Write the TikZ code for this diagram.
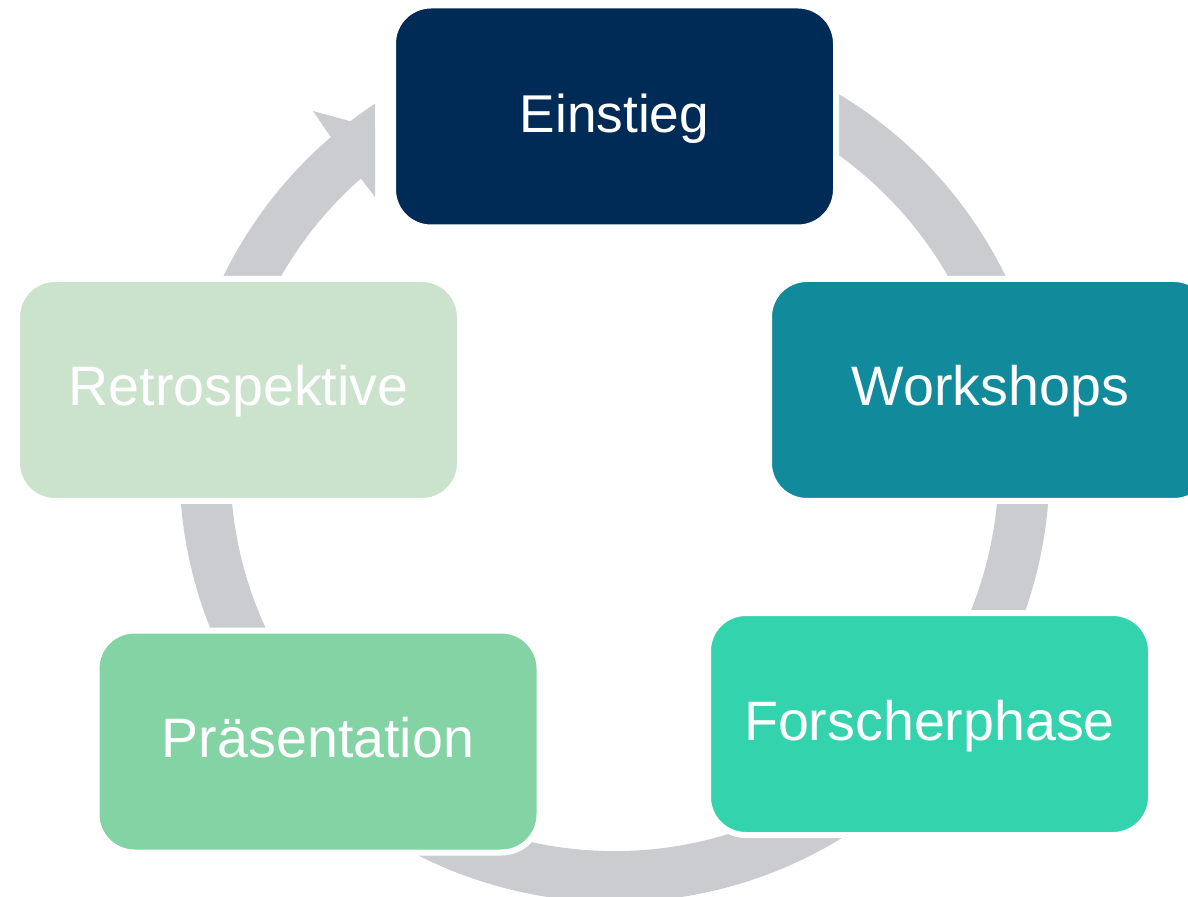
\documentclass[tikz,border=0pt]{standalone}
\usepackage{fontspec}
\setmainfont{Liberation Sans}
\definecolor{cEin}{RGB}{0,43,86}
\definecolor{cWork}{RGB}{17,138,156}
\definecolor{cFor}{RGB}{51,211,173}
\definecolor{cPra}{RGB}{132,211,164}
\definecolor{cRet}{RGB}{203,227,204}
\definecolor{ringgray}{RGB}{203,204,208}
\begin{document}
\begin{tikzpicture}[x=0.5pt,y=-0.5pt,
  phase/.style={rectangle, rounded corners=19pt, draw=white, line width=3pt,
    minimum width=221.5pt, minimum height=111pt, inner sep=0pt,
    text=white, font=\fontsize{27.8}{32}\selectfont,
    text height=20pt, text depth=4pt},
  ring/.style={draw=ringgray, line width=25.5pt}]
\useasboundingbox (0,0) rectangle (1188,897);
\clip (0,0) rectangle (1188,897);
\coordinate (c) at (614.5,467);
\draw[ring] (c) circle[radius=409.6];
\fill[white] (375,85) rectangle (400,230);
\fill[ringgray] (328,133) -- (313,111) -- (375,128) -- (375,197) -- (359,176) -- cycle;
\node[phase, fill=cEin, font=\fontsize{26.6}{31}\selectfont] (einstieg) at (614.5,116.5) {Einstieg};
\node[phase, fill=cWork] (workshops) at (990.5,390) {Workshops};
\node[phase, fill=cFor] (forscher) at (929.5,724) {Forscherphase};
\node[phase, fill=cPra] (praes) at (318,741.5) {Präsentation};
\node[phase, fill=cRet] (retro) at (238.5,390) {Retrospektive};
\end{tikzpicture}
\end{document}
